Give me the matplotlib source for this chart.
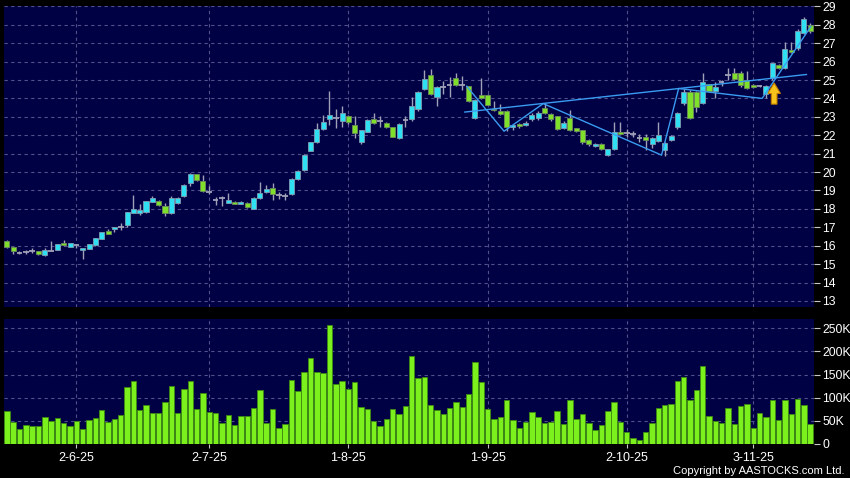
import numpy as np
import matplotlib
matplotlib.use('Agg')
import matplotlib.pyplot as plt
from matplotlib.patches import Polygon

plt.rcParams['font.family'] = ['Liberation Sans', 'DejaVu Sans']

# daily candles (index 0 = first trading day shown)
opens = [
    16.24, 15.92, 15.61, 15.68, 15.74, 15.70, 15.47, 15.74, 15.79, 16.13,
    15.95, 16.02, 15.75, 15.84, 16.02, 16.39, 16.79, 16.90, 17.00, 17.13,
    17.78, 17.78, 17.84, 18.38, 18.45, 18.14, 17.78, 18.33, 18.69, 19.41,
    19.89, 19.51, 18.92, 18.47, 18.58, 18.33, 18.40, 18.29, 18.32, 18.00,
    18.59, 18.90, 19.14, 18.73, 18.68, 18.82, 19.62, 20.12, 21.15, 21.64,
    22.35, 22.89, 22.94, 22.75, 23.05, 22.56, 21.64, 22.20, 22.89, 22.80,
    22.67, 22.44, 21.86, 22.84, 22.89, 23.40, 24.52, 25.28, 24.10, 24.64,
    24.73, 25.11, 24.75, 24.66, 22.94, 24.19, 24.19, 23.45, 23.34, 23.30,
    22.44, 22.62, 22.58, 22.89, 22.95, 23.47, 23.16, 23.02, 22.40, 22.93,
    22.38, 22.26, 21.75, 21.39, 21.53, 20.94, 21.26, 22.20, 22.13, 22.08,
    21.86, 21.91, 21.53, 21.71, 21.21, 21.76, 22.45, 23.73, 24.36, 24.36,
    23.73, 24.76, 24.42, 24.87, 25.27, 25.40, 25.40, 25.00, 24.73, 24.67,
    24.22, 25.09, 25.82, 25.67, 26.64, 26.73, 27.55, 28.00]
closes = [
    15.95, 15.69, 15.61, 15.68, 15.74, 15.54, 15.75, 15.74, 16.08, 16.02,
    16.13, 16.02, 15.86, 16.10, 16.41, 16.73, 16.66, 17.02, 17.00, 17.82,
    18.00, 17.95, 18.41, 18.59, 18.20, 17.78, 18.59, 18.59, 19.30, 19.89,
    19.55, 18.95, 18.92, 18.47, 18.58, 18.49, 18.29, 18.40, 18.09, 18.59,
    18.86, 19.08, 18.81, 18.73, 18.68, 19.63, 20.05, 20.94, 21.62, 22.35,
    22.73, 23.11, 22.94, 23.22, 22.71, 22.13, 22.26, 22.84, 22.69, 22.80,
    22.47, 21.93, 22.62, 22.84, 23.61, 24.34, 25.06, 24.25, 24.61, 24.64,
    24.73, 24.75, 24.75, 23.88, 23.92, 24.01, 23.67, 23.36, 23.16, 22.44,
    22.56, 22.49, 22.69, 23.11, 23.20, 23.20, 22.89, 22.35, 22.69, 22.29,
    22.22, 21.62, 21.50, 21.53, 21.26, 21.23, 22.17, 22.08, 22.13, 22.08,
    21.86, 21.75, 21.84, 22.04, 21.57, 21.95, 23.22, 24.36, 22.96, 23.55,
    24.91, 24.40, 24.60, 24.87, 25.27, 25.04, 24.73, 24.55, 24.60, 24.67,
    24.67, 25.91, 25.67, 26.67, 26.51, 27.64, 28.31, 27.64]
highs = [
    16.30, 15.95, 15.72, 15.79, 15.90, 15.74, 15.90, 16.25, 16.10, 16.30,
    16.15, 16.05, 15.90, 16.12, 16.43, 16.75, 16.92, 17.04, 17.22, 17.84,
    18.77, 18.25, 18.45, 18.68, 18.50, 18.32, 18.68, 18.62, 19.33, 19.93,
    19.92, 19.82, 19.22, 18.65, 18.68, 18.89, 18.45, 18.45, 18.36, 18.62,
    19.46, 19.28, 19.40, 18.91, 18.86, 19.70, 20.10, 21.00, 21.66, 22.69,
    23.11, 24.43, 23.43, 23.61, 23.11, 23.05, 22.30, 22.89, 23.22, 23.07,
    22.72, 22.47, 22.66, 23.07, 24.07, 24.38, 25.55, 25.60, 24.65, 24.97,
    25.18, 25.40, 25.24, 24.70, 23.96, 25.11, 24.25, 23.85, 23.70, 23.35,
    22.62, 22.66, 22.75, 23.20, 23.30, 23.75, 23.20, 23.05, 22.75, 23.35,
    22.42, 22.30, 21.80, 21.58, 21.60, 21.28, 22.71, 22.71, 22.35, 22.24,
    22.05, 22.08, 21.90, 22.71, 21.62, 22.00, 23.27, 24.50, 24.45, 24.40,
    25.36, 24.80, 24.87, 25.00, 25.64, 25.64, 25.51, 25.51, 24.78, 24.72,
    24.72, 25.95, 25.86, 27.09, 27.09, 27.76, 28.40, 28.09]
lows = [
    15.90, 15.54, 15.54, 15.57, 15.63, 15.50, 15.45, 15.70, 15.77, 16.00,
    15.93, 15.90, 15.30, 15.82, 16.00, 16.37, 16.62, 16.76, 16.86, 17.02,
    17.76, 17.65, 17.80, 18.35, 18.15, 17.64, 17.74, 18.28, 18.66, 19.25,
    19.50, 18.92, 18.83, 18.22, 18.14, 18.30, 18.25, 18.24, 18.04, 17.97,
    18.55, 18.86, 18.48, 18.55, 18.50, 18.78, 19.55, 20.08, 21.12, 21.60,
    22.30, 22.58, 22.38, 22.44, 22.60, 21.84, 21.53, 22.15, 22.62, 22.44,
    22.42, 21.88, 21.82, 22.47, 22.80, 23.30, 24.45, 24.20, 23.58, 24.25,
    24.10, 24.70, 24.46, 23.80, 22.88, 23.95, 23.62, 23.30, 23.10, 22.25,
    22.30, 22.40, 22.50, 22.80, 22.85, 23.15, 22.80, 22.30, 22.35, 22.25,
    22.15, 21.55, 21.40, 21.35, 21.22, 20.90, 21.20, 22.05, 21.90, 21.90,
    21.65, 21.20, 21.30, 21.65, 20.90, 21.70, 22.36, 23.65, 22.90, 23.27,
    23.70, 24.35, 24.05, 24.67, 25.00, 25.00, 24.60, 24.50, 24.55, 24.60,
    24.00, 25.00, 25.60, 25.60, 26.45, 26.64, 27.50, 27.55]

# volume in thousands of shares
volume = [
    71, 47, 32, 42, 39, 39, 59, 50, 56, 46, 38, 49, 32, 52, 57, 73, 47, 55, 62, 124,
    137, 74, 84, 68, 68, 91, 125, 67, 118, 136, 75, 111, 70, 67, 45, 63, 42, 61, 61, 78,
    116, 46, 75, 35, 43, 139, 115, 155, 186, 155, 154, 256, 129, 136, 119, 133, 81, 76, 50, 39,
    53, 76, 64, 83, 191, 143, 145, 85, 74, 64, 77, 91, 79, 108, 178, 133, 75, 53, 59, 96,
    52, 34, 48, 69, 59, 46, 47, 71, 43, 94, 54, 64, 45, 31, 40, 71, 90, 47, 25, 14,
    8, 25, 46, 77, 85, 87, 136, 145, 95, 116, 169, 60, 50, 46, 77, 44, 82, 87, 35, 67,
    58, 95, 52, 95, 64, 98, 84, 43]

date_labels = ['2-6-25', '2-7-25', '1-8-25', '1-9-25', '2-10-25', '3-11-25']
date_index = [11, 32, 54, 76, 98, 118]

# drawn trend lines (index, price)
trend_x = [72.4, 126.4]
trend_y = [23.26, 25.30]
zigzag_x = [72.7, 78.6, 84.8, 103.5, 106.2, 119.4, 127.1]
zigzag_y = [24.66, 22.22, 23.72, 20.92, 24.54, 24.00, 27.90]

arrow_x = 121.3
arrow_tip = 24.84
arrow_base = 23.69

o = np.array(opens)
c = np.array(closes)
h = np.array(highs)
l = np.array(lows)
x = np.arange(len(o))

bg = '#000044'
grid_col = '#50508a'
txt = 'white'

fig = plt.figure(figsize=(8.5, 4.78), dpi=100, facecolor='black')
ax1 = fig.add_axes([4/850, 1 - 306.5/478, 810/850, 300.5/478], facecolor=bg)
ax2 = fig.add_axes([4/850, 1 - 444/478, 810/850, 125/478], facecolor=bg)

for ax in (ax1, ax2):
    for s in ax.spines.values():
        s.set_visible(False)
    ax.set_xlim(-0.45, 127.6)
    ax.set_axisbelow(True)
    ax.grid(True, color=grid_col, linestyle=(0, (3, 3)), linewidth=0.8)
    ax.yaxis.tick_right()
    ax.tick_params(axis='y', colors='#c8c8c8', labelcolor=txt, labelsize=8.8,
                   length=4, width=0.8, pad=2)

# price panel
ax1.set_ylim(12.70, 29.02)
ax1.set_yticks(range(13, 30))
ax1.set_xticks(date_index)
ax1.tick_params(axis='x', length=0, labelbottom=False)

ax1.vlines(x, l, h, color='#a0a0b8', linewidth=1, zorder=2)
up = c > o
dn = c < o
flat = c == o
ax1.bar(x[up], (c - o)[up], bottom=o[up], width=0.8, color='#2fe0f2',
        edgecolor='#7f9cb0', linewidth=0.6, zorder=3)
ax1.bar(x[dn], (o - c)[dn], bottom=c[dn], width=0.8, color='#7ee02a',
        edgecolor='#6c8c5a', linewidth=0.6, zorder=3)
ax1.hlines(c[flat], x[flat] - 0.45, x[flat] + 0.45, color='#a0a0b8',
           linewidth=1.3, zorder=3)

ax1.plot(trend_x, trend_y, color='#3a9cf0', linewidth=1, zorder=4)
ax1.plot(zigzag_x, zigzag_y, color='#3a9cf0', linewidth=1, zorder=4)

# yellow up arrow
head_y = arrow_tip - 0.57
pts = [(arrow_x, arrow_tip), (arrow_x + 1.0, head_y), (arrow_x + 0.45, head_y),
       (arrow_x + 0.45, arrow_base), (arrow_x - 0.45, arrow_base),
       (arrow_x - 0.45, head_y), (arrow_x - 1.0, head_y)]
ax1.add_patch(Polygon(pts, closed=True, facecolor='#f8c41c', edgecolor='#c07c00',
                      linewidth=0.8, zorder=5))

# volume panel
ax2.bar(x, volume, width=0.86, color='#7cf01c', edgecolor='#3c8a10',
        linewidth=0.6, zorder=3)
ax2.set_ylim(0, 270)
ax2.set_yticks([0, 50, 100, 150, 200, 250])
ax2.set_yticklabels(['0', '50K', '100K', '150K', '200K', '250K'])
ax2.set_xticks(date_index)
ax2.set_xticklabels(date_labels)
ax2.tick_params(axis='x', colors='#c8c8c8', labelcolor=txt, labelsize=9,
                length=3, width=0.8, pad=3)

fig.text(0.994, 0.014, 'Copyright by AASTOCKS.com Ltd.', color=txt,
         fontsize=8, ha='right', va='center')

fig.savefig('out.png', dpi=100, facecolor='black')
